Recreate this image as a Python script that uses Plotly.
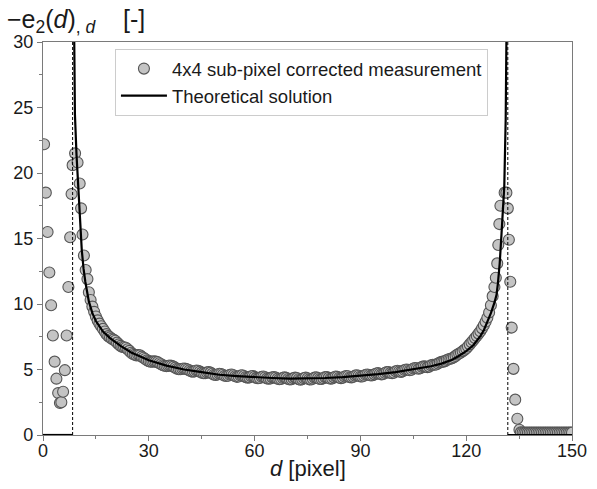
import numpy as np
import plotly.graph_objects as go

# ---------------- data ----------------
# measured points, left discontinuity region (irregular read positions)
meas_left_x = [0.3, 0.8, 1.3, 1.8, 2.3, 2.8, 3.3, 3.8, 4.3, 4.8, 5.2, 5.7, 6.2, 6.7,
               7.2, 7.7, 8.1, 8.4, 9.1, 9.8, 10.4, 10.8, 11.2, 11.6, 12.1, 12.6]
meas_left_y = [22.2, 18.5, 15.5, 12.4, 9.9, 7.6, 5.6, 4.3, 3.2, 2.45, 2.5, 3.3, 4.95, 7.6,
               11.3, 15.1, 18.4, 20.6, 21.5, 20.8, 19.2, 17.3, 15.3, 13.7, 12.6, 11.9]

# measured points, central band (sampled every 0.5 pixel from 13.0 to 125.5)
meas_mid_x = np.arange(13.0, 125.75, 0.5)
meas_mid_y = [
    10.9, 10.3, 9.8, 9.4, 9.05, 8.75, 8.5, 8.3, 8.1, 7.9,
    7.7, 7.55, 7.45, 7.35, 7.28, 7.2, 7.05, 6.92, 6.8, 6.72,
    6.7, 6.66, 6.55, 6.42, 6.28, 6.18, 6.12, 6.08, 6.1, 6.08,
    5.98, 5.9, 5.8, 5.7, 5.64, 5.6, 5.6, 5.62, 5.6, 5.56,
    5.48, 5.4, 5.32, 5.28, 5.26, 5.28, 5.3, 5.28, 5.22, 5.14,
    5.06, 5.03, 5.02, 5.06, 5.08, 5.05, 5.0, 4.93, 4.86, 4.84,
    4.86, 4.92, 4.9, 4.84, 4.76, 4.72, 4.72, 4.78, 4.8, 4.76,
    4.68, 4.6, 4.58, 4.62, 4.68, 4.66, 4.6, 4.52, 4.5, 4.52,
    4.6, 4.62, 4.56, 4.48, 4.44, 4.46, 4.54, 4.56, 4.5, 4.42,
    4.38, 4.4, 4.48, 4.5, 4.44, 4.36, 4.33, 4.36, 4.44, 4.46,
    4.4, 4.32, 4.3, 4.32, 4.4, 4.42, 4.38, 4.3, 4.26, 4.28,
    4.36, 4.4, 4.36, 4.28, 4.24, 4.26, 4.34, 4.38, 4.34, 4.26,
    4.22, 4.26, 4.34, 4.38, 4.32, 4.25, 4.24, 4.3, 4.38, 4.4,
    4.34, 4.27, 4.27, 4.34, 4.42, 4.42, 4.36, 4.3, 4.32, 4.4,
    4.46, 4.44, 4.37, 4.34, 4.38, 4.46, 4.5, 4.48, 4.41, 4.4,
    4.45, 4.53, 4.56, 4.52, 4.46, 4.47, 4.52, 4.6, 4.62, 4.58,
    4.54, 4.56, 4.63, 4.7, 4.72, 4.67, 4.63, 4.66, 4.74, 4.8,
    4.8, 4.74, 4.72, 4.76, 4.86, 4.9, 4.86, 4.82, 4.86, 4.96,
    5.0, 4.98, 4.94, 4.98, 5.08, 5.12, 5.1, 5.06, 5.1, 5.2,
    5.24, 5.22, 5.18, 5.22, 5.32, 5.36, 5.36, 5.38, 5.46, 5.54,
    5.58, 5.6, 5.64, 5.72, 5.78, 5.82, 5.86, 5.94, 6.04, 6.14,
    6.22, 6.3, 6.4, 6.5, 6.6, 6.76, 6.92, 7.08, 7.24, 7.4,
    7.56, 7.74, 7.92, 8.14, 8.38, 8.64,
]

# measured points, right discontinuity region
meas_right_x = [126.0, 126.5, 127.0, 127.5, 128.0, 128.4, 128.8, 129.1, 129.4, 129.7,
                130.9, 131.4, 131.8, 132.1, 132.5, 132.9, 133.4, 133.9, 134.5, 135.1]
meas_right_y = [8.95, 9.35, 9.9, 10.6, 11.3, 12.0, 13.1, 14.5, 16.1, 17.5,
                18.5, 18.5, 17.3, 14.9, 11.7, 8.2, 5.05, 2.7, 1.24, 0.4]

# measured points, flat tail (every 0.5 pixel from 135.5 to 150)
meas_tail_x = np.arange(135.5, 150.25, 0.5)
meas_tail_y = [0.2, 0.19, 0.18, 0.18, 0.18, 0.18, 0.18, 0.18, 0.18, 0.18,
               0.18, 0.18, 0.18, 0.18, 0.18, 0.18, 0.18, 0.18, 0.18, 0.18,
               0.18, 0.18, 0.18, 0.18, 0.18, 0.18, 0.18, 0.18, 0.18, 0.18]

# theoretical solution; None breaks the line
theory_x = [0, 8.4, None,
            8.65, 8.85, 9.05, 9.5, 10.0, 10.5, 11.0, 11.5, 12.0, 13.0, 14.0, 15.0,
            17.0, 19.0, 22.0, 25.0, 30.0, 35.0, 40.0, 45.0, 50.0, 55.0, 60.0, 65.0,
            70.0, 75.0, 80.0, 85.0, 90.0, 95.0, 100.0, 105.0, 110.0, 113.0, 116.0,
            118.0, 120.0, 122.0, 124.0, 125.0, 126.0, 127.0, 128.0, 128.6, 129.0,
            129.5, 130.0, 130.5, 130.8, 131.2, 131.45, 131.6, None,
            131.8, 150]
theory_y = [0, 0, None,
            36, 30, 24.5, 21.4, 18.9, 16.4, 14.1, 12.7, 11.7, 10.2, 9.3, 8.7,
            7.9, 7.4, 6.8, 6.3, 5.7, 5.3, 5.0, 4.8, 4.6, 4.5, 4.4, 4.35,
            4.3, 4.3, 4.35, 4.42, 4.52, 4.65, 4.8, 5.0, 5.25, 5.45, 5.75,
            6.05, 6.4, 6.85, 7.55, 8.0, 8.6, 9.3, 10.1, 10.7, 11.6,
            13.1, 15.3, 17.5, 19.0, 24.1, 30, 36, None,
            0, 0]

# asymptote positions (dashed verticals)
asymptotes = [8.4, 131.8]

x_ticks = [0, 30, 60, 90, 120, 150]
y_ticks = [0, 5, 10, 15, 20, 25, 30]

# ---------------- figure ----------------
FONT = "Liberation Sans, Arial, sans-serif"
meas_x = list(meas_left_x) + list(meas_mid_x) + list(meas_right_x) + list(meas_tail_x)
meas_y = list(meas_left_y) + list(meas_mid_y) + list(meas_right_y) + list(meas_tail_y)

fig = go.Figure()

for a in asymptotes:
    fig.add_shape(type="line", xref="x", yref="paper", x0=a, x1=a, y0=0, y1=1,
                  line=dict(color="black", width=1, dash="3px,2px"), layer="above")

fig.add_trace(go.Scatter(
    x=meas_x, y=meas_y, mode="markers",
    name="4x4 sub-pixel corrected measurement",
    marker=dict(size=11, color="#c4c4c4", line=dict(color="#555555", width=1.1)),
))
fig.add_trace(go.Scatter(
    x=theory_x, y=theory_y, mode="lines", name="Theoretical solution",
    line=dict(color="black", width=2.2), connectgaps=False,
))

axis_common = dict(
    showline=True, linecolor="#7a7a7a", linewidth=1.4, mirror=True,
    ticks="outside", ticklen=5, tickwidth=1.2, tickcolor="#7a7a7a",
    showgrid=False, zeroline=False, automargin=False,
    tickfont=dict(family=FONT, size=18, color="#1a1a1a"),
)

fig.update_layout(
    width=597, height=489,
    margin=dict(l=43, r=25, t=42, b=54),
    paper_bgcolor="white", plot_bgcolor="white",
    font=dict(family=FONT, color="#1a1a1a"),
    showlegend=True,
    legend=dict(
        x=0.136, y=0.982, xanchor="left", yanchor="top",
        bgcolor="rgba(255,255,255,0.85)", bordercolor="#cccccc", borderwidth=1,
        font=dict(family=FONT, size=18.5, color="#1a1a1a"),
        tracegroupgap=0, itemwidth=46,
    ),
    xaxis=dict(range=[0, 150], tickvals=x_ticks, ticklabelstandoff=-6,
               minor=dict(dtick=15, ticklen=3, tickcolor="#7a7a7a", ticks="outside"),
               **axis_common),
    yaxis=dict(range=[0, 30], tickvals=y_ticks,
               minor=dict(dtick=2.5, ticklen=3, tickcolor="#7a7a7a", ticks="outside"),
               **axis_common),
    annotations=[
        dict(
            text="\u2212e<sub>2</sub>(<i>d</i>)<sub>, <i>d</i></sub>\u00a0\u00a0\u00a0\u00a0[-]",
            xref="paper", yref="paper", x=-0.072, y=1.008,
            xanchor="left", yanchor="bottom", showarrow=False,
            font=dict(family=FONT, size=25, color="#1a1a1a"),
        ),
        dict(
            text="<i>d</i> [pixel]",
            xref="paper", yref="paper", x=0.5, y=-0.084,
            xanchor="center", yanchor="middle", showarrow=False,
            font=dict(family=FONT, size=22, color="#1a1a1a"),
        ),
    ],
)

fig.write_html("out.html")
